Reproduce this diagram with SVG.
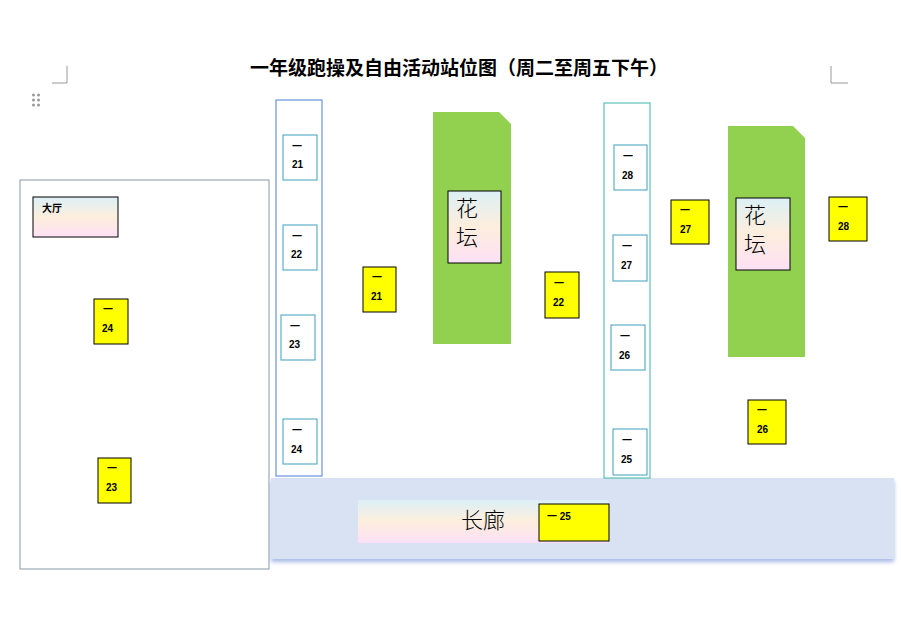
<svg xmlns="http://www.w3.org/2000/svg" width="901" height="634" viewBox="0 0 901 634">
<defs>
<linearGradient id="g" x1="0" y1="0" x2="0" y2="1"><stop offset="0" stop-color="#dcf0f6"/><stop offset="0.5" stop-color="#fdeedd"/><stop offset="1" stop-color="#fde0f6"/></linearGradient>
<filter id="sh" x="-5%" y="-20%" width="110%" height="150%"><feDropShadow dx="0" dy="3" stdDeviation="2" flood-color="#8fa8e0" flood-opacity="0.8"/></filter>
<style>
text{font-family:"Liberation Sans","Noto Sans CJK SC",sans-serif;fill:#000}
.y{fill:#ff0;stroke:#000;stroke-width:1}
.s{fill:#fff;stroke:#3f9fbf;stroke-width:1}
.n{font-size:10px;font-weight:bold}
.m{stroke:#999;fill:none}
.big{font-family:"Noto Sans CJK SC",sans-serif;font-size:22px;font-weight:300}
</style>
</defs>
<rect width="901" height="634" fill="#fff"/>
<text x="459" y="75" text-anchor="middle" font-size="19" font-weight="bold" font-family="Noto Sans CJK SC,sans-serif">一年级跑操及自由活动站位图（周二至周五下午）</text>
<g class="m"><path d="M52 83H67V66"/><path d="M848 83H831V66"/><path d="M50 540H67V556"/></g>
<g fill="#999"><circle cx="33.5" cy="95" r="1.5"/><circle cx="38.5" cy="95" r="1.5"/><circle cx="33.5" cy="100" r="1.5"/><circle cx="38.5" cy="100" r="1.5"/><circle cx="33.5" cy="105" r="1.5"/><circle cx="38.5" cy="105" r="1.5"/></g>
<g id="hall"><rect x="20" y="180" width="249" height="389" fill="#fff" stroke="#8a9aa8"/>
<rect x="33" y="197" width="85" height="40" fill="url(#g)" stroke="#000"/><text x="42" y="212" font-size="10" font-weight="bold">大厅</text></g>
<g id="corridor"><rect x="271" y="478" width="623" height="81" fill="#d9e2f3" filter="url(#sh)"/>
<rect x="358" y="500" width="250" height="43" fill="url(#g)"/><text x="483" y="528" text-anchor="middle" font-size="22" font-weight="300" font-family="Noto Sans CJK SC,sans-serif">长廊</text></g>
<g id="col1"><rect x="276" y="100" width="46" height="376" fill="#fff" stroke="#4a7fd4"/></g>
<g id="col2"><rect x="604" y="103" width="46" height="375" fill="#fff" stroke="#3bb5a8"/></g>
<g id="bed1"><path d="M433 112H499L511 124V344H433Z" fill="#92d050"/><rect x="448" y="191" width="53" height="72" fill="url(#g)" stroke="#000"/><text x="456" y="216" class="big">花</text><text x="456" y="245" class="big">坛</text></g>
<g id="bed2"><path d="M728 126H793L805 138V357H728Z" fill="#92d050"/><rect x="736" y="198" width="54" height="72" fill="url(#g)" stroke="#000"/><text x="744" y="223" class="big">花</text><text x="744" y="252" class="big">坛</text></g>
<g id="c21"><rect class="s" x="283" y="135" width="34" height="45"/><text class="n" x="292" y="150">一</text><text class="n" x="292" y="168">21</text></g>
<g id="c22"><rect class="s" x="283" y="225" width="34" height="45"/><text class="n" x="292" y="240">一</text><text class="n" x="291" y="258">22</text></g>
<g id="c23"><rect class="s" x="281" y="315" width="34" height="45"/><text class="n" x="290" y="330">一</text><text class="n" x="289" y="348">23</text></g>
<g id="c24"><rect class="s" x="283" y="419" width="34" height="45"/><text class="n" x="292" y="434">一</text><text class="n" x="291" y="453">24</text></g>
<g id="c28"><rect class="s" x="614" y="145" width="33" height="45"/><text class="n" x="623" y="160">一</text><text class="n" x="622" y="179">28</text></g>
<g id="c27"><rect class="s" x="613" y="235" width="34" height="46"/><text class="n" x="622" y="250">一</text><text class="n" x="621" y="269">27</text></g>
<g id="c26"><rect class="s" x="611" y="325" width="34" height="45"/><text class="n" x="620" y="340">一</text><text class="n" x="619" y="359">26</text></g>
<g id="c25"><rect class="s" x="613" y="429" width="34" height="46"/><text class="n" x="622" y="444">一</text><text class="n" x="621" y="463">25</text></g>
<g id="y24"><rect class="y" x="94" y="299" width="34" height="45"/><text class="n" x="103" y="313">一</text><text class="n" x="102" y="332">24</text></g>
<g id="y23"><rect class="y" x="98" y="458" width="33" height="45"/><text class="n" x="107" y="472">一</text><text class="n" x="106" y="491">23</text></g>
<g id="y21"><rect class="y" x="363" y="267" width="33" height="45"/><text class="n" x="372" y="281">一</text><text class="n" x="371" y="300">21</text></g>
<g id="y22"><rect class="y" x="545" y="272" width="34" height="46"/><text class="n" x="554" y="287">一</text><text class="n" x="553" y="306">22</text></g>
<g id="y27"><rect class="y" x="671" y="200" width="38" height="44"/><text class="n" x="680" y="214">一</text><text class="n" x="680" y="233">27</text></g>
<g id="y28"><rect class="y" x="829" y="197" width="38" height="44"/><text class="n" x="838" y="211">一</text><text class="n" x="838" y="230">28</text></g>
<g id="y26"><rect class="y" x="748" y="400" width="38" height="44"/><text class="n" x="757" y="414">一</text><text class="n" x="757" y="433">26</text></g>
<g id="y25"><rect class="y" x="539" y="504" width="70" height="37"/><text class="n" x="547" y="520">一 25</text></g>
<g id="connectors"/>
</svg>
